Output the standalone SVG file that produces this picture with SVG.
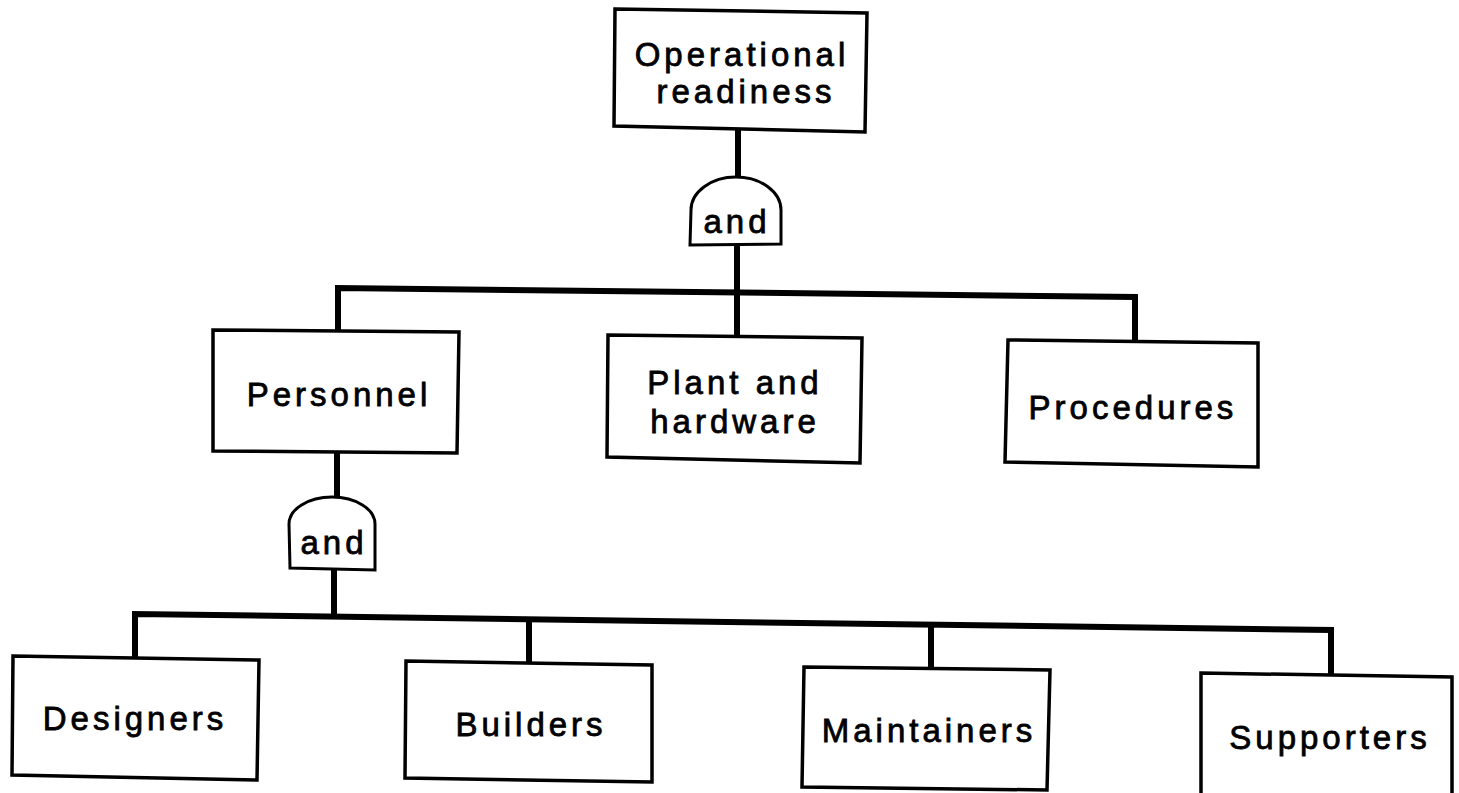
<svg xmlns="http://www.w3.org/2000/svg" width="1459" height="793" viewBox="0 0 1459 793">
  <style>
    .box { fill: #fff; stroke: #000; stroke-width: 3.5; stroke-linejoin: miter; }
    .gate { fill: #fff; stroke: #000; stroke-width: 3; }
    .wire { fill: none; stroke: #000; stroke-width: 6; stroke-linejoin: miter; stroke-linecap: butt; }
    .lbl { font-family: "Liberation Sans", Arial, Helvetica, sans-serif; font-size: 33px; letter-spacing: 4px; fill: #000; stroke: #000; stroke-width: 0.8; text-anchor: middle; }
  </style>
  <rect width="1459" height="793" fill="#fff"/>

  <!-- connectors -->
  <g id="connectors">
    <line class="wire" x1="738" y1="130" x2="738" y2="177"/>
    <line class="wire" x1="737" y1="244" x2="737" y2="337"/>
    <polyline class="wire" points="338,331 338,288 1135,297 1135,342"/>
    <line class="wire" x1="337" y1="451" x2="337" y2="498"/>
    <line class="wire" x1="334" y1="568" x2="334" y2="617"/>
    <polyline class="wire" points="135,657 135,614 1331,630 1331,675"/>
    <line class="wire" x1="529" y1="619" x2="529" y2="662"/>
    <line class="wire" x1="931" y1="625" x2="931" y2="668"/>
  </g>

  <!-- top event -->
  <g id="operational-readiness">
    <polygon class="box" points="615,9 867,13 865,132 614,126"/>
    <text class="lbl" x="742" y="66">Operational</text>
    <text class="lbl" x="746" y="103">readiness</text>
  </g>

  <!-- AND gate under the top event -->
  <g id="gate-top">
    <path class="gate" d="M690,245 L691,210 A45,33 0 0 1 781,210 L781,244 Z"/>
    <text class="lbl" x="737" y="233">and</text>
  </g>

  <g id="personnel">
    <polygon class="box" points="213,330 459,332 457,453 213,451"/>
    <text class="lbl" x="339" y="406">Personnel</text>
  </g>

  <g id="plant-hardware">
    <polygon class="box" points="608,335 862,338 860,463 607,457"/>
    <text class="lbl" x="735" y="394">Plant and</text>
    <text class="lbl" x="735" y="433">hardware</text>
  </g>

  <g id="procedures">
    <polygon class="box" points="1008,340 1258,343 1258,467 1005,462"/>
    <text class="lbl" x="1133" y="419">Procedures</text>
  </g>

  <!-- AND gate under Personnel -->
  <g id="gate-personnel">
    <path class="gate" d="M290,568 L289,524 A43,27 0 0 1 375,524 L375,570 Z"/>
    <text class="lbl" x="334" y="554">and</text>
  </g>

  <g id="designers">
    <polygon class="box" points="13,656 259,660 257,780 12,775"/>
    <text class="lbl" x="135" y="730">Designers</text>
  </g>

  <g id="builders">
    <polygon class="box" points="406,661 652,665 652,782 405,778"/>
    <text class="lbl" x="531" y="736">Builders</text>
  </g>

  <g id="maintainers">
    <polygon class="box" points="804,667 1050,670 1047,790 802,787"/>
    <text class="lbl" x="929" y="742">Maintainers</text>
  </g>

  <g id="supporters">
    <polygon class="box" points="1201,673 1452,677 1452,800 1201,800"/>
    <text class="lbl" x="1330" y="749">Supporters</text>
  </g>
</svg>
